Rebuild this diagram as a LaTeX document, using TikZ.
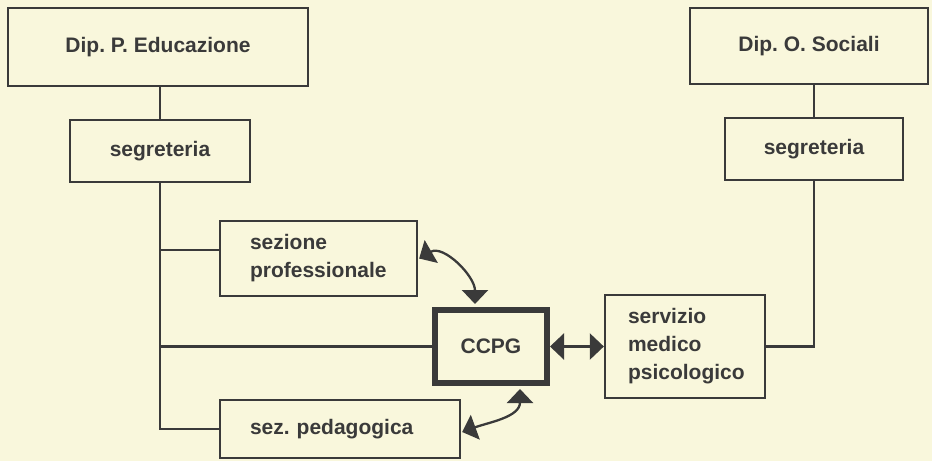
\documentclass[tikz,border=0pt]{standalone}
\usepackage{fontspec}
\setmainfont{Liberation Sans}
\usetikzlibrary{arrows.meta}
\definecolor{paper}{HTML}{F9F7DC}
\definecolor{ink}{HTML}{3A3A3A}
\frenchspacing
\begin{document}
\begin{tikzpicture}[x=1pt,y=-1pt,
  every node/.style={font=\fontsize{21}{28}\selectfont\bfseries, text=ink},
  box/.style={draw=ink, line width=2.3pt, rectangle, inner sep=0pt},
  lbox/.style={box, align=left, inner ysep=0pt},
  conn/.style={draw=ink, line width=2.3pt},
  biarrow/.style={conn, {Triangle[width=26pt,length=14pt]}-{Triangle[width=26pt,length=14pt]}}
]
\fill[paper] (0,0) rectangle (932,461);
\useasboundingbox (0,0) rectangle (932,461);

\node[box, minimum width=300pt, minimum height=78pt] (dipP) at (158,47) {Dip. P. Educazione};
\node[box, minimum width=180pt, minimum height=62pt] (segL) at (160,151) {segreteria};
\node[box, minimum width=238pt, minimum height=76pt] (dipO) at (809,46) {Dip. O. Sociali};
\node[box, minimum width=178pt, minimum height=62pt] (segR) at (814,149) {segreteria};

\node[lbox, text width=137pt, inner xsep=30pt, minimum height=75pt] (sez) at (318.5,258.5) {sezione\\professionale};
\node[box, draw=ink, line width=6pt, minimum width=112pt, minimum height=73pt] (ccpg) at (491,346.5) {CCPG};
\node[lbox, text width=114pt, inner xsep=23pt, minimum height=103pt] (serv) at (685,346.5) {servizio\\medico\\psicologico};
\node[lbox, text width=180pt, inner xsep=30pt, minimum height=58pt] (ped) at (340,429) {sez. pedagogica};

% left tree
\draw[conn] (segL.north) -- (segL.north |- dipP.south);
\draw[conn] (segL.south) |- (ped.west);
\draw[conn] (segL.south |- ccpg.west) -- (ccpg.west);
\coordinate (sezin) at ([yshift=8.5pt]sez.west);
\draw[conn] (segL.south |- sezin) -- (sezin);

% right tree
\draw[conn] (segR.north) -- (segR.north |- dipO.south);
\draw[conn] (segR.south) |- (serv.east);

% arrows
\draw[biarrow] (ccpg.east) -- (serv.west);
\draw[biarrow] ([xshift=1pt]sez.east) to[out=30,in=90] ([xshift=-16pt,yshift=3pt]ccpg.north);
\draw[biarrow] ([xshift=1pt,yshift=-3pt]ped.east) to[out=20,in=-90] ([xshift=29pt,yshift=-3pt]ccpg.south);
\end{tikzpicture}
\end{document}
